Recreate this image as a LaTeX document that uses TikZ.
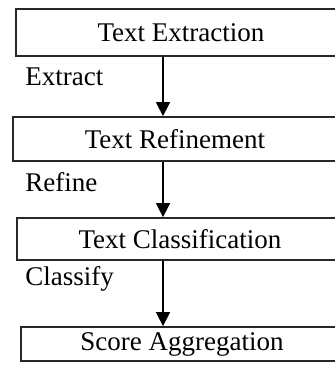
\documentclass[tikz,border=0pt]{standalone}
\usepackage{fontspec}
\setmainfont{Liberation Serif}
\usetikzlibrary{arrows.meta, positioning, calc}
\definecolor{edgecolor}{RGB}{40,40,40}
\tikzset{
  stage/.style = {draw=edgecolor, line width=0.9pt, fill=white, inner sep=0pt,
                  font=\fontsize{13.5}{16}\selectfont},
  lbl/.style   = {anchor=west, inner sep=0pt, font=\fontsize{13.5}{16}\selectfont},
  arrow/.style = {-{Triangle[length=7pt, width=7pt]}, line width=0.8pt, color=black},
}

\begin{document}
\begin{tikzpicture}[x=0.5pt, y=-0.5pt]
  \useasboundingbox (0,0) rectangle (334,365);

  % stages (right sides run off the page)
  \node[stage, minimum width=165pt, minimum height=23.5pt] (ext) at (181,32.5) {Text Extraction};
  \node[stage, minimum width=162pt, minimum height=22pt]   (ref) at (175,139)  {Text Refinement};
  \node[stage, minimum width=163pt, minimum height=21pt]   (cls) at (180,239)  {Text Classification};
  \node[stage, minimum width=161pt, minimum height=17pt]   (agg) at (182,344)  {Score Aggregation};

  % step labels
  \node[lbl] (extl) at (25,77)  {Extract};
  \node[lbl] (refl) at (25,182) {Refine};
  \node[lbl] (clsl) at (25,279) {Classify};

  % connectors
  \coordinate (ax) at (163,0);
  \draw[arrow] (ext.south -| ax) -- (ref.north -| ax);
  \draw[arrow] (ref.south -| ax) -- (cls.north -| ax);
  \draw[arrow] (cls.south -| ax) -- (agg.north -| ax);
\end{tikzpicture}
\end{document}
